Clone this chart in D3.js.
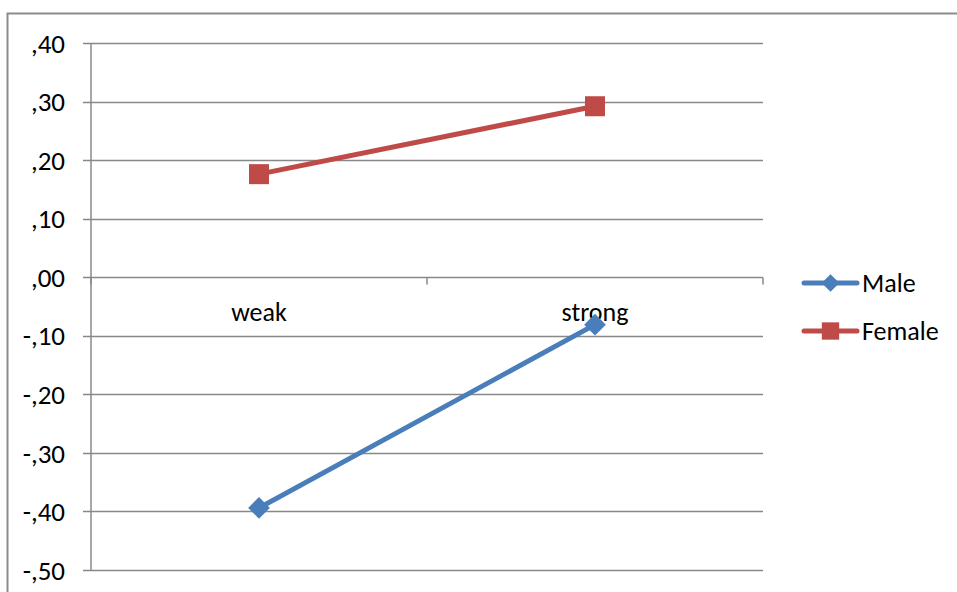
<!DOCTYPE html>
<html>
<head>
<meta charset="utf-8">
<script src="https://cdn.jsdelivr.net/npm/d3@7"></script>
<style>
  html, body { margin: 0; padding: 0; background: #fff; }
  svg { display: block; font-family: Carlito, Lato, "Liberation Sans", sans-serif; }
</style>
</head>
<body>
<svg id="chart" width="957" height="592"></svg>
<script>
const categories = ["weak", "strong"];
const maleValues = [-0.394, -0.081];
const femaleValues = [0.176, 0.292];
const yTicks = [0.4, 0.3, 0.2, 0.1, 0, -0.1, -0.2, -0.3, -0.4, -0.5];
const yTickLabels = [",40", ",30", ",20", ",10", ",00", "-,10", "-,20", "-,30", "-,40", "-,50"];

const series = [
  { name: "Male", values: maleValues, color: "#4A7EBB", marker: "diamond" },
  { name: "Female", values: femaleValues, color: "#BE4B48", marker: "square" }
];

const svg = d3.select("#chart");
const plot = { left: 91, right: 763, top: 43, bottom: 570 };

// outer chart frame
svg.append("rect")
  .attr("x", 7.5).attr("y", 13.5)
  .attr("width", 960).attr("height", 600)
  .attr("fill", "none").attr("stroke", "#8c8c8c").attr("stroke-width", 2);

const y = d3.scaleLinear().domain([-0.5, 0.4]).range([plot.bottom, plot.top]);
const x = d3.scaleBand().domain(categories).range([plot.left, plot.right]);

// horizontal gridlines with tick stubs
const grid = svg.append("g");
grid.selectAll("line").data(yTicks).join("line")
  .attr("x1", plot.left - 8).attr("x2", plot.right)
  .attr("y1", d => Math.round(y(d)) + 0.5).attr("y2", d => Math.round(y(d)) + 0.5)
  .attr("stroke", "#888").attr("stroke-width", 1.5);

// vertical axis line
svg.append("line")
  .attr("x1", plot.left).attr("x2", plot.left)
  .attr("y1", plot.top).attr("y2", plot.bottom)
  .attr("stroke", "#888").attr("stroke-width", 1.5);

// y tick labels
svg.append("g").selectAll("text").data(yTicks).join("text")
  .attr("x", 65).attr("y", d => y(d))
  .attr("dy", "0.36em")
  .attr("text-anchor", "end")
  .attr("font-size", 27)
  .attr("fill", "#000")
  .text((d, i) => yTickLabels[i]);

// category axis at zero with tick marks
const y0 = Math.round(y(0)) + 0.5;
const catTicks = [plot.left, plot.left + x.bandwidth(), plot.right];
svg.append("g").selectAll("line").data(catTicks).join("line")
  .attr("x1", d => d).attr("x2", d => d)
  .attr("y1", y0).attr("y2", y0 + 7)
  .attr("stroke", "#888").attr("stroke-width", 1.5);

svg.append("g").selectAll("text").data(categories).join("text")
  .attr("x", d => x(d) + x.bandwidth() / 2)
  .attr("y", y0 + 43)
  .attr("text-anchor", "middle")
  .attr("font-size", 26)
  .attr("fill", "#000")
  .text(d => d);

const line = d3.line()
  .x((d, i) => x(categories[i]) + x.bandwidth() / 2)
  .y(d => y(d));

const diamond = d3.symbol().type(d3.symbolDiamond2).size(300);
const square = d3.symbol().type(d3.symbolSquare).size(400);

series.forEach(s => {
  const g = svg.append("g");
  g.append("path")
    .attr("d", line(s.values))
    .attr("fill", "none")
    .attr("stroke", s.color)
    .attr("stroke-width", 5);
  g.selectAll("path.m").data(s.values).join("path")
    .attr("class", "m")
    .attr("transform", (d, i) => `translate(${x(categories[i]) + x.bandwidth() / 2},${y(d)})`)
    .attr("d", s.marker === "diamond" ? diamond() : square())
    .attr("fill", s.color);
});

// legend
const legend = svg.append("g");
series.forEach((s, i) => {
  const ly = 283 + i * 48;
  legend.append("line")
    .attr("x1", 804).attr("x2", 857)
    .attr("y1", ly).attr("y2", ly)
    .attr("stroke", s.color).attr("stroke-width", 5)
    .attr("stroke-linecap", "round");
  legend.append("path")
    .attr("transform", `translate(830.5,${ly})`)
    .attr("d", s.marker === "diamond"
      ? d3.symbol().type(d3.symbolDiamond2).size(200)()
      : d3.symbol().type(d3.symbolSquare).size(300)())
    .attr("fill", s.color);
  legend.append("text")
    .attr("x", 862).attr("y", ly)
    .attr("dy", "0.36em")
    .attr("font-size", 26)
    .attr("fill", "#000")
    .text(s.name);
});
</script>
</body>
</html>
